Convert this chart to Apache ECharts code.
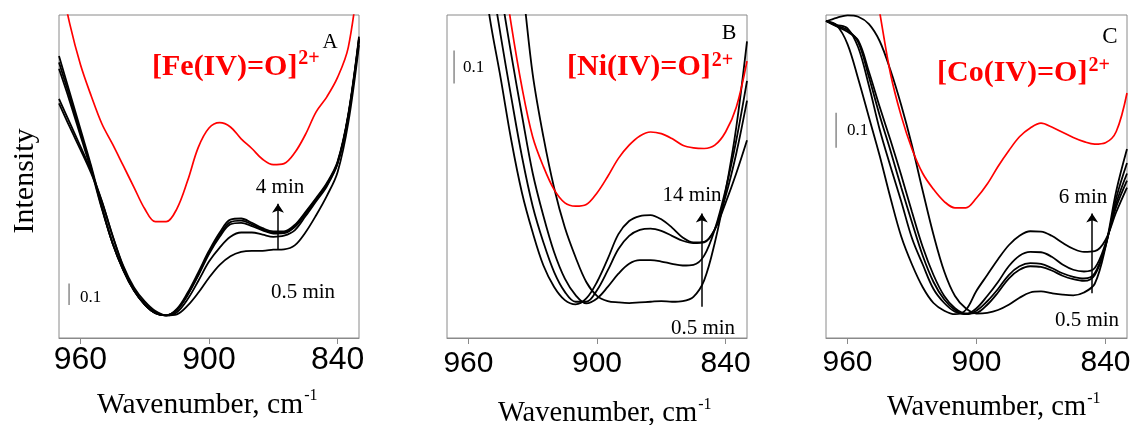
<!DOCTYPE html>
<html>
<head>
<meta charset="utf-8">
<script src="https://cdn.jsdelivr.net/npm/echarts@6/dist/echarts.min.js"></script>
<style>
  html, body { margin: 0; padding: 0; background: #fff; overflow: hidden; }
  #chart { width: 1131px; height: 425px; }
</style>
</head>
<body>
<div id="chart"></div>
<script>
// Wavenumber grid (cm-1), shared by all three panels
const wavenumbers = [970, 965, 960, 955, 950, 945, 940, 935, 930, 925, 920, 915, 910, 905, 900,
                     895, 890, 885, 880, 875, 870, 865, 860, 855, 850, 845, 840, 835, 830];
const tickValues = [960, 900, 840];

// Panel A: Fe(IV)=O
const feOxo = [1.70, 1.46, 1.27, 1.125, 0.995, 0.90, 0.80, 0.70, 0.60, 0.54, 0.54, 0.60, 0.73, 0.885, 0.975,
               1.00, 0.98, 0.925, 0.88, 0.83, 0.805, 0.81, 0.86, 0.945, 1.05, 1.12, 1.21, 1.35, 1.70];
const feT1 = [1.09, 0.98, 0.875, 0.765, 0.635, 0.475, 0.335, 0.235, 0.17, 0.125, 0.105, 0.11, 0.15, 0.21, 0.28,
              0.34, 0.38, 0.40, 0.405, 0.405, 0.41, 0.412, 0.43, 0.49, 0.57, 0.66, 0.77, 1.00, 1.36];
const feT2 = [1.11, 1.00, 0.89, 0.775, 0.635, 0.475, 0.33, 0.225, 0.16, 0.12, 0.105, 0.12, 0.18, 0.265, 0.355,
              0.42, 0.47, 0.49, 0.49, 0.48, 0.47, 0.475, 0.50, 0.565, 0.635, 0.705, 0.81, 1.03, 1.38];
const feT3 = [1.25, 1.10, 0.94, 0.78, 0.60, 0.44, 0.315, 0.22, 0.155, 0.115, 0.105, 0.13, 0.20, 0.29, 0.39,
              0.47, 0.528, 0.535, 0.52, 0.50, 0.485, 0.487, 0.515, 0.575, 0.64, 0.71, 0.81, 1.03, 1.39];
const feT4 = [1.28, 1.12, 0.955, 0.79, 0.605, 0.44, 0.315, 0.22, 0.155, 0.115, 0.105, 0.13, 0.20, 0.295, 0.395,
              0.48, 0.538, 0.545, 0.528, 0.505, 0.49, 0.49, 0.52, 0.58, 0.645, 0.715, 0.815, 1.035, 1.39];
const feT5 = [1.31, 1.14, 0.97, 0.80, 0.61, 0.44, 0.315, 0.22, 0.155, 0.115, 0.105, 0.135, 0.21, 0.305, 0.405,
              0.49, 0.55, 0.555, 0.535, 0.51, 0.495, 0.495, 0.525, 0.585, 0.65, 0.72, 0.82, 1.04, 1.40];

// Panel B: Ni(IV)=O
const niOxo = [2.40, 2.10, 1.85, 1.60, 1.38, 1.17, 0.95, 0.76, 0.61, 0.52, 0.45, 0.41, 0.40, 0.405, 0.44,
               0.49, 0.545, 0.585, 0.613, 0.625, 0.62, 0.605, 0.585, 0.577, 0.575, 0.585, 0.625, 0.70, 0.84];
const niT1 = [3.00, 2.70, 2.40, 2.10, 1.80, 1.50, 1.30, 1.08, 0.80, 0.61, 0.455, 0.335, 0.245, 0.17, 0.128,
              0.112, 0.108, 0.106, 0.108, 0.11, 0.112, 0.11, 0.112, 0.125, 0.175, 0.29, 0.445, 0.64, 0.90];
const niT2 = [2.50, 2.20, 1.95, 1.70, 1.30, 1.06, 0.86, 0.675, 0.50, 0.37, 0.26, 0.18, 0.13, 0.105, 0.12,
              0.155, 0.195, 0.225, 0.236, 0.236, 0.232, 0.225, 0.22, 0.222, 0.25, 0.33, 0.45, 0.60, 0.78];
const niT3 = [2.20, 1.95, 1.68, 1.42, 1.13, 0.92, 0.73, 0.55, 0.40, 0.29, 0.20, 0.14, 0.11, 0.11, 0.145,
              0.205, 0.27, 0.31, 0.328, 0.332, 0.325, 0.31, 0.295, 0.288, 0.29, 0.33, 0.43, 0.56, 0.72];
const niT4 = [2.00, 1.70, 1.45, 1.20, 0.97, 0.79, 0.60, 0.44, 0.32, 0.22, 0.155, 0.115, 0.102, 0.12, 0.17,
              0.24, 0.315, 0.355, 0.37, 0.373, 0.36, 0.335, 0.305, 0.29, 0.292, 0.33, 0.41, 0.50, 0.60];

// Panel C: Co(IV)=O
const coOxo = [1.83, 1.65, 1.47, 1.29, 1.11, 0.93, 0.755, 0.634, 0.54, 0.47, 0.425, 0.39, 0.372, 0.372, 0.40,
               0.44, 0.49, 0.535, 0.575, 0.60, 0.614, 0.603, 0.588, 0.573, 0.561, 0.554, 0.558, 0.59, 0.70];
const coT1 = [0.905, 0.915, 0.922, 0.918, 0.897, 0.848, 0.765, 0.665, 0.55, 0.42, 0.295, 0.19, 0.12, 0.085, 0.07,
              0.072, 0.08, 0.095, 0.115, 0.13, 0.133, 0.128, 0.124, 0.122, 0.13, 0.155, 0.26, 0.42, 0.54];
const coT2 = [0.906, 0.89, 0.875, 0.85, 0.76, 0.66, 0.565, 0.465, 0.36, 0.26, 0.18, 0.12, 0.085, 0.07, 0.072,
              0.095, 0.13, 0.17, 0.195, 0.205, 0.203, 0.193, 0.178, 0.168, 0.163, 0.18, 0.262, 0.40, 0.50];
const coT3 = [0.906, 0.892, 0.88, 0.845, 0.745, 0.635, 0.535, 0.43, 0.33, 0.235, 0.16, 0.11, 0.08, 0.068, 0.078,
              0.105, 0.14, 0.18, 0.205, 0.214, 0.212, 0.20, 0.185, 0.175, 0.17, 0.185, 0.265, 0.385, 0.47];
const coT4 = [0.906, 0.895, 0.885, 0.83, 0.72, 0.595, 0.49, 0.39, 0.285, 0.21, 0.14, 0.10, 0.075, 0.068, 0.085,
              0.12, 0.16, 0.205, 0.235, 0.246, 0.245, 0.232, 0.21, 0.195, 0.19, 0.20, 0.27, 0.375, 0.45];
const coT5 = [0.906, 0.893, 0.84, 0.74, 0.63, 0.52, 0.40, 0.29, 0.21, 0.145, 0.10, 0.078, 0.068, 0.08, 0.135,
              0.18, 0.225, 0.265, 0.292, 0.305, 0.304, 0.292, 0.272, 0.255, 0.246, 0.248, 0.28, 0.36, 0.43];

// Per-panel settings: y range, 0.1 scale bar, time arrow
const panelYMax = [1.5, 0.98, 0.923];
const scaleBars = [[965.3, 0.153], [966.7, 0.772], [965.3, 0.544]]; // [wavenumber, bar bottom]
const arrows = [[867.8, 0.409, 0.623], [851.1, 0.095, 0.378], [846.2, 0.128, 0.356]]; // [wn, from, to]

const panels = [
  { red: feOxo, black: [feT1, feT2, feT3, feT4, feT5] },
  { red: niOxo, black: [niT1, niT2, niT3, niT4] },
  { red: coOxo, black: [coT1, coT2, coT3, coT4, coT5] }
];

const gridBoxes = [
  { left: 59, top: 15, width: 300, height: 323 },
  { left: 447, top: 15, width: 300, height: 323 },
  { left: 826, top: 15, width: 301, height: 323 }
];
const tickFont = [32, 30, 30];
const tickMargin = [6, 11, 10];
const frameColor = '#8a8a8a';
const SERIF = '"Liberation Serif", "Times New Roman", serif';
const RED = '#ff0000';

const pairs = vals => wavenumbers.map((w, k) => [w, vals[k]]);

const grid = gridBoxes.map(b => Object.assign({
  show: true, borderColor: frameColor, borderWidth: 1, containLabel: false, outerBoundsMode: 'none'
}, b));

const xAxis = gridBoxes.map((b, i) => ({
  type: 'value', gridIndex: i, min: 830, max: 970, inverse: true,
  axisLine: { show: true, lineStyle: { color: frameColor, width: 1 } },
  axisTick: { show: true, customValues: tickValues, length: 6, lineStyle: { color: frameColor } },
  axisLabel: { customValues: tickValues, fontSize: tickFont[i], fontFamily: '"Liberation Sans", Arial, sans-serif',
               color: '#000', margin: tickMargin[i], hideOverlap: false },
  splitLine: { show: false }
}));

const yAxis = panelYMax.map((m, i) => ({ type: 'value', gridIndex: i, min: 0, max: m, show: false }));

const series = [];
panels.forEach((p, i) => {
  p.black.forEach(vals => series.push({
    type: 'line', xAxisIndex: i, yAxisIndex: i, data: pairs(vals), symbol: 'none', smooth: 0.35,
    clip: true, silent: true, lineStyle: { color: '#000', width: 1.8 }
  }));
  series.push({
    type: 'line', xAxisIndex: i, yAxisIndex: i, data: pairs(p.red), symbol: 'none', smooth: 0.35,
    clip: true, silent: true, lineStyle: { color: RED, width: 1.7 }
  });
  const [sw, sb] = scaleBars[i];
  series.push({
    type: 'line', xAxisIndex: i, yAxisIndex: i, data: [[sw, sb], [sw, sb + 0.1]], symbol: 'none',
    silent: true, lineStyle: { color: '#8a8a8a', width: 1.5 }
  });
  const [aw, a0, a1] = arrows[i];
  series.push({
    type: 'lines', coordinateSystem: 'cartesian2d', xAxisIndex: i, yAxisIndex: i, silent: true,
    symbol: ['none', 'arrow'], symbolSize: 9,
    lineStyle: { color: '#000', width: 1.5, opacity: 1 },
    data: [{ coords: [[aw, a0], [aw, a1]] }]
  });
});

// text width, for placing superscripts right after their base text
const measureCtx = document.createElement('canvas').getContext('2d');
function fontOf(size, bold) { return (bold ? 'bold ' : '') + size + 'px ' + SERIF; }
function widthOf(text, size, bold) { measureCtx.font = fontOf(size, bold); return measureCtx.measureText(text).width; }

function txt(text, x, y, size, opts) {
  opts = opts || {};
  return {
    type: 'text', x: x, y: y, rotation: opts.rotation || 0, silent: true,
    style: {
      text: text, fill: opts.color || '#000', font: fontOf(size, opts.bold),
      textAlign: opts.align || 'left', textVerticalAlign: 'middle'
    }
  };
}
// base text plus a superscript placed right after it
function withSup(base, sup, x, y, size, supSize, rise, opts) {
  const w = widthOf(base, size, opts && opts.bold);
  return [txt(base, x, y, size, opts), txt(sup, x + w + 1, y - rise, supSize, opts)];
}

const graphic = [].concat(
  // panel A
  withSup('[Fe(IV)=O]', '2+', 152, 67, 30, 20, 8, { bold: true, color: RED }),
  [txt('A', 330, 42, 21, { align: 'center' }),
   txt('4 min', 280, 187, 21, { align: 'center' }),
   txt('0.5 min', 303, 292, 21, { align: 'center' }),
   txt('0.1', 80, 298, 17)],
  // panel B
  withSup('[Ni(IV)=O]', '2+', 567, 67.5, 30, 20, 7, { bold: true, color: RED }),
  [txt('B', 729, 33, 22, { align: 'center' }),
   txt('14 min', 692, 195, 21, { align: 'center' }),
   txt('0.5 min', 703, 328, 21, { align: 'center' }),
   txt('0.1', 463, 68, 17)],
  // panel C
  withSup('[Co(IV)=O]', '2+', 937, 73, 30, 20, 7, { bold: true, color: RED }),
  [txt('C', 1110, 37, 23, { align: 'center' }),
   txt('6 min', 1083, 197, 21, { align: 'center' }),
   txt('0.5 min', 1087, 320, 21, { align: 'center' }),
   txt('0.1', 847, 131, 17)],
  // axis titles
  withSup('Wavenumber, cm', '-1', 97, 405, 29.5, 16, 9),
  withSup('Wavenumber, cm', '-1', 498, 414, 28.5, 16, 9),
  withSup('Wavenumber, cm', '-1', 887, 408, 28.5, 16, 9),
  [txt('Intensity', 25, 181, 30, { align: 'center', rotation: Math.PI / 2 })]
);

const chart = echarts.init(document.getElementById('chart'), null, { renderer: 'canvas' });
chart.setOption({ animation: false, grid: grid, xAxis: xAxis, yAxis: yAxis, series: series, graphic: graphic });
</script>
</body>
</html>
